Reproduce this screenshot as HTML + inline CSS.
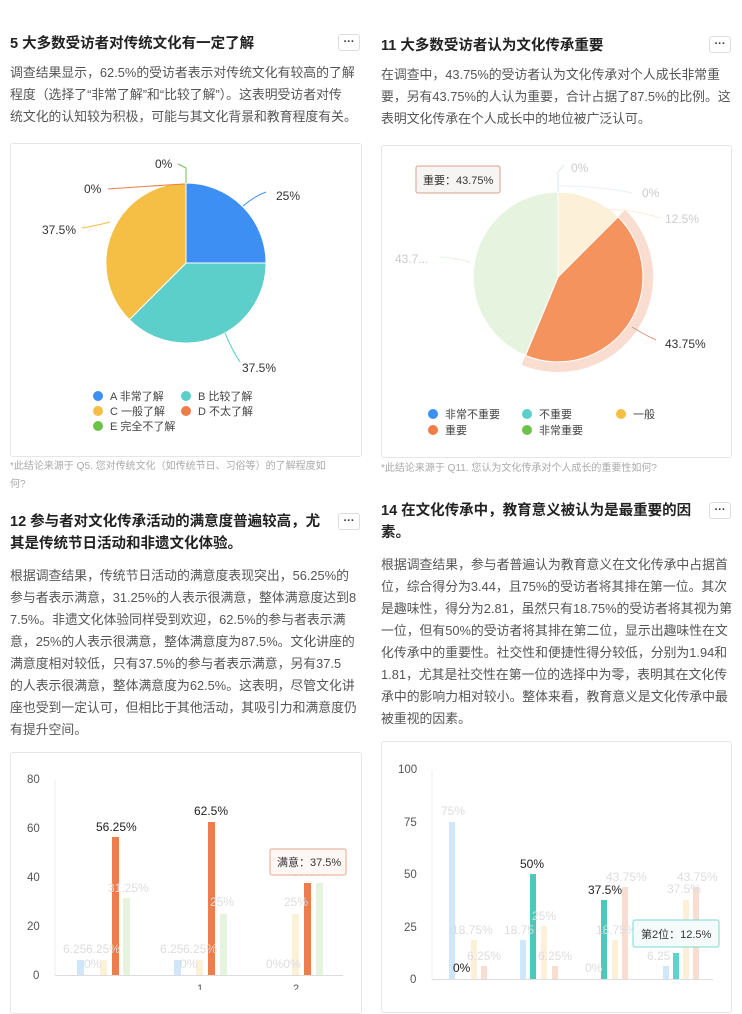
<!DOCTYPE html>
<html><head><meta charset="utf-8"><style>
body{margin:0;width:742px;height:990px;background:#fff;position:relative;overflow:hidden;font-family:"Liberation Sans","Noto Sans CJK SC",sans-serif;}
.t{position:absolute;font-size:14.5px;font-weight:bold;color:#222;white-space:nowrap;}
.p{position:absolute;font-size:12.85px;color:#555;white-space:nowrap;line-height:22px;}
.f{position:absolute;font-size:10px;color:#aaa;white-space:nowrap;line-height:18px;}
.box{position:absolute;border:1px solid #e6e6e6;border-radius:3px;}
.m{position:absolute;width:20px;height:15px;border:1px solid #ddd;border-radius:3px;font-size:11px;line-height:15px;text-align:center;color:#333;font-weight:bold;}
svg{position:absolute;left:0;top:0;}
</style></head><body>
<div class="t" style="left:10px;top:32px">5 大多数受访者对传统文化有一定了解</div>
<div class="m" style="left:338px;top:34px">···</div>
<div class="p" style="left:10px;top:62px">调查结果显示，62.5%的受访者表示对传统文化有较高的了解<br>程度（选择了“非常了解”和“比较了解”）。这表明受访者对传<br>统文化的认知较为积极，可能与其文化背景和教育程度有关。</div>
<div class="box" style="left:10px;top:143px;width:350px;height:312px"></div>
<div class="f" style="left:10px;top:458px">*此结论来源于 Q5. 您对传统文化（如传统节日、习俗等）的了解程度如<br>何?</div>

<div class="t" style="left:381px;top:34px">11 大多数受访者认为文化传承重要</div>
<div class="m" style="left:709px;top:36px">···</div>
<div class="p" style="left:381px;top:64px">在调查中，43.75%的受访者认为文化传承对个人成长非常重<br>要，另有43.75%的人认为重要，合计占据了87.5%的比例。这<br>表明文化传承在个人成长中的地位被广泛认可。</div>
<div class="box" style="left:381px;top:145px;width:349px;height:311px"></div>
<div class="f" style="left:381px;top:460px">*此结论来源于 Q11. 您认为文化传承对个人成长的重要性如何?</div>

<div class="t" style="left:10px;top:511px;line-height:22px">12 参与者对文化传承活动的满意度普遍较高，尤<br>其是传统节日活动和非遗文化体验。</div>
<div class="m" style="left:338px;top:513px">···</div>
<div class="p" style="left:10px;top:565px">根据调查结果，传统节日活动的满意度表现突出，56.25%的<br>参与者表示满意，31.25%的人表示很满意，整体满意度达到8<br>7.5%。非遗文化体验同样受到欢迎，62.5%的参与者表示满<br>意，25%的人表示很满意，整体满意度为87.5%。文化讲座的<br>满意度相对较低，只有37.5%的参与者表示满意，另有37.5<br>的人表示很满意，整体满意度为62.5%。这表明，尽管文化讲<br>座也受到一定认可，但相比于其他活动，其吸引力和满意度仍<br>有提升空间。</div>
<div class="box" style="left:10px;top:752px;width:350px;height:260px"></div>

<div class="t" style="left:381px;top:500px;line-height:22px">14 在文化传承中，教育意义被认为是最重要的因<br>素。</div>
<div class="m" style="left:709px;top:502px">···</div>
<div class="p" style="left:381px;top:554px">根据调查结果，参与者普遍认为教育意义在文化传承中占据首<br>位，综合得分为3.44，且75%的受访者将其排在第一位。其次<br>是趣味性，得分为2.81，虽然只有18.75%的受访者将其视为第<br>一位，但有50%的受访者将其排在第二位，显示出趣味性在文<br>化传承中的重要性。社交性和便捷性得分较低，分别为1.94和<br>1.81，尤其是社交性在第一位的选择中为零，表明其在文化传<br>承中的影响力相对较小。整体来看，教育意义是文化传承中最<br>被重视的因素。</div>
<div class="box" style="left:381px;top:741px;width:349px;height:270px"></div>

<svg width="742" height="990" font-family="Liberation Sans, Noto Sans CJK SC, sans-serif">
<g stroke="#fff" stroke-width="1">
<path d="M186,263 L186,183 A80,80 0 0 1 266,263 Z" fill="#3d8ff3"/>
<path d="M186,263 L266,263 A80,80 0 0 1 129.4,319.6 Z" fill="#5ccfca"/>
<path d="M186,263 L129.4,319.6 A80,80 0 0 1 186,183 Z" fill="#f5be45"/>
</g>
<g fill="none" stroke-width="1">
<path d="M243,206 Q255,196 266,192" stroke="#3d8ff3"/>
<path d="M225,333 Q232,350 240,362" stroke="#5ccfca"/>
<path d="M110,222 Q95,226 82,228" stroke="#f5be45"/>
<path d="M185,184 Q150,186 108,189" stroke="#f07c4a"/>
<path d="M186,183 L186,168 L178,164" stroke="#6cc24a"/>
</g>
<g font-size="12" fill="#333">
<text x="276" y="200">25%</text>
<text x="242" y="372">37.5%</text>
<text x="42" y="234">37.5%</text>
<text x="84" y="193">0%</text>
<text x="155" y="168">0%</text>
</g>
<g font-size="11" fill="#444">
<circle cx="98" cy="396" r="5" fill="#3d8ff3"/><text x="110" y="400">A 非常了解</text>
<circle cx="186" cy="396" r="5" fill="#5ccfca"/><text x="198" y="400">B 比较了解</text>
<circle cx="98" cy="411" r="5" fill="#f5be45"/><text x="110" y="415">C 一般了解</text>
<circle cx="186" cy="411" r="5" fill="#f07c4a"/><text x="198" y="415">D 不太了解</text>
<circle cx="98" cy="426" r="5" fill="#6cc24a"/><text x="110" y="430">E 完全不了解</text>
</g>
<path d="M558,277 L625.2,209.8 A95,95 0 0 1 521.6,364.8 Z" fill="#f9ddd0"/>
<g stroke="#fff" stroke-width="1">
<path d="M558,277 L558,192 A85,85 0 0 1 618.1,216.9 Z" fill="#fdf0d8"/>
<path d="M558,277 L618.1,216.9 A85,85 0 0 1 525.5,355.5 Z" fill="#f4935e"/>
<path d="M558,277 L525.5,355.5 A85,85 0 0 1 558,192 Z" fill="#e6f3df"/>
</g>
<g fill="none" stroke-width="1">
<path d="M558,192 L558,172 L564,165" stroke="#d6eeec"/>
<path d="M558,186 Q600,186 632,193" stroke="#e8eef8"/>
<path d="M603,210 Q630,208 660,218" stroke="#fbeed8"/>
<path d="M470,262 Q455,258 440,257" stroke="#e6f3df"/>
<path d="M632,327 Q645,335 656,340" stroke="#d99a7c"/>
</g>
<g font-size="12" fill="#ccc">
<text x="571" y="172">0%</text>
<text x="642" y="197">0%</text>
<text x="665" y="223">12.5%</text>
<text x="395" y="263">43.7...</text>
</g>
<text x="665" y="348" font-size="12" fill="#333">43.75%</text>
<rect x="416" y="166" width="84" height="27" rx="2" fill="#f7f5f3" stroke="#d9a08c"/>
<text x="423" y="184" font-size="11" fill="#333">重要：43.75%</text>
<g font-size="11" fill="#444">
<circle cx="433" cy="414" r="5" fill="#3d8ff3"/><text x="445" y="418">非常不重要</text>
<circle cx="527" cy="414" r="5" fill="#5ccfca"/><text x="539" y="418">不重要</text>
<circle cx="621" cy="414" r="5" fill="#f5be45"/><text x="633" y="418">一般</text>
<circle cx="433" cy="430" r="5" fill="#f07c4a"/><text x="445" y="434">重要</text>
<circle cx="527" cy="430" r="5" fill="#6cc24a"/><text x="539" y="434">非常重要</text>
</g>
<g font-size="11.5" fill="#555">
<text x="27" y="783">80</text><text x="27" y="832">60</text><text x="27" y="881">40</text><text x="27" y="930">20</text><text x="33" y="979">0</text>
</g>
<line x1="55" y1="780" x2="55" y2="975" stroke="#eee"/>
<line x1="55" y1="975.5" x2="343" y2="975.5" stroke="#ddd"/>
<g>
<rect x="77" y="960" width="7" height="15" fill="#cfe6fb"/>
<rect x="100" y="960" width="7" height="15" fill="#fdf0d8"/>
<rect x="112" y="837" width="7" height="138" fill="#f07c4a"/>
<rect x="123" y="898" width="7" height="77" fill="#e6f3df"/>
<rect x="174" y="960" width="7" height="15" fill="#cfe6fb"/>
<rect x="196" y="960" width="7" height="15" fill="#fdf0d8"/>
<rect x="208" y="822" width="7" height="153" fill="#f07c4a"/>
<rect x="220" y="914" width="7" height="61" fill="#e6f3df"/>
<rect x="292" y="914" width="7" height="61" fill="#fdf0d8"/>
<rect x="304" y="883" width="7" height="92" fill="#f07c4a"/>
<rect x="316" y="883" width="7" height="92" fill="#e6f3df"/>
</g>
<g font-size="12" fill="#ddd">
<text x="63" y="953">6.25</text><text x="86" y="953">6.25%</text><text x="84" y="968">0%</text>
<text x="108" y="892">31.25%</text>
<text x="160" y="953">6.25</text><text x="183" y="953">6.25%</text><text x="180" y="968">0%</text>
<text x="210" y="906">25%</text>
<text x="266" y="968">0%0%</text><text x="284" y="906">25%</text><text x="292" y="876">37.5%</text>
</g>
<g font-size="12" fill="#222"><text x="96" y="831">56.25%</text><text x="194" y="815">62.5%</text></g>
<text x="197" y="992" font-size="11" fill="#555">1</text><text x="293" y="992" font-size="11" fill="#555">2</text>
<rect x="270" y="849" width="76" height="26" rx="2" fill="#fdf8f5" stroke="#e8a58a"/>
<text x="277" y="866" font-size="11" fill="#333">满意：37.5%</text>
<g font-size="11.5" fill="#555">
<text x="398" y="773">100</text><text x="404" y="826">75</text><text x="404" y="878">50</text><text x="404" y="931">25</text><text x="410" y="983">0</text>
</g>
<line x1="432" y1="770" x2="432" y2="979" stroke="#eee"/>
<line x1="432" y1="979.5" x2="713" y2="979.5" stroke="#ddd"/>
<g>
<rect x="449" y="822" width="6" height="157" fill="#cfe6fb"/>
<rect x="471" y="940" width="6" height="39" fill="#fdf0d8"/>
<rect x="481" y="966" width="6" height="13" fill="#f9ddd0"/>
<rect x="520" y="940" width="6" height="39" fill="#cfe6fb"/>
<rect x="530" y="874" width="6" height="105" fill="#4dc9bc"/>
<rect x="541" y="926" width="6" height="53" fill="#fdf0d8"/>
<rect x="552" y="966" width="6" height="13" fill="#f9ddd0"/>
<rect x="601" y="900" width="6" height="79" fill="#4dc9bc"/>
<rect x="612" y="940" width="6" height="39" fill="#fdf0d8"/>
<rect x="622" y="887" width="6" height="92" fill="#f9ddd0"/>
<rect x="663" y="966" width="6" height="13" fill="#cfe6fb"/>
<rect x="673" y="953" width="6" height="26" fill="#5cd3cc"/>
<rect x="683" y="900" width="6" height="79" fill="#fdf0d8"/>
<rect x="693" y="887" width="6" height="92" fill="#f9ddd0"/>
</g>
<g font-size="12" fill="#ddd">
<text x="441" y="815">75%</text><text x="452" y="934">18.75%</text><text x="467" y="960">6.25%</text>
<text x="504" y="934">18.75</text><text x="532" y="920">25%</text><text x="538" y="960">6.25%</text>
<text x="585" y="972">0%</text><text x="596" y="934">18.75%</text><text x="606" y="881">43.75%</text>
<text x="647" y="960">6.25</text><text x="667" y="893">37.5%</text><text x="677" y="881">43.75%</text>
</g>
<g font-size="12" fill="#222"><text x="453" y="972">0%</text><text x="520" y="868">50%</text><text x="588" y="894">37.5%</text></g>
<rect x="633" y="920" width="86" height="27" rx="2" fill="#f5fbfa" stroke="#7ed8d0"/>
<text x="641" y="938" font-size="11" fill="#333">第2位：12.5%</text>
</svg>
</body></html>
